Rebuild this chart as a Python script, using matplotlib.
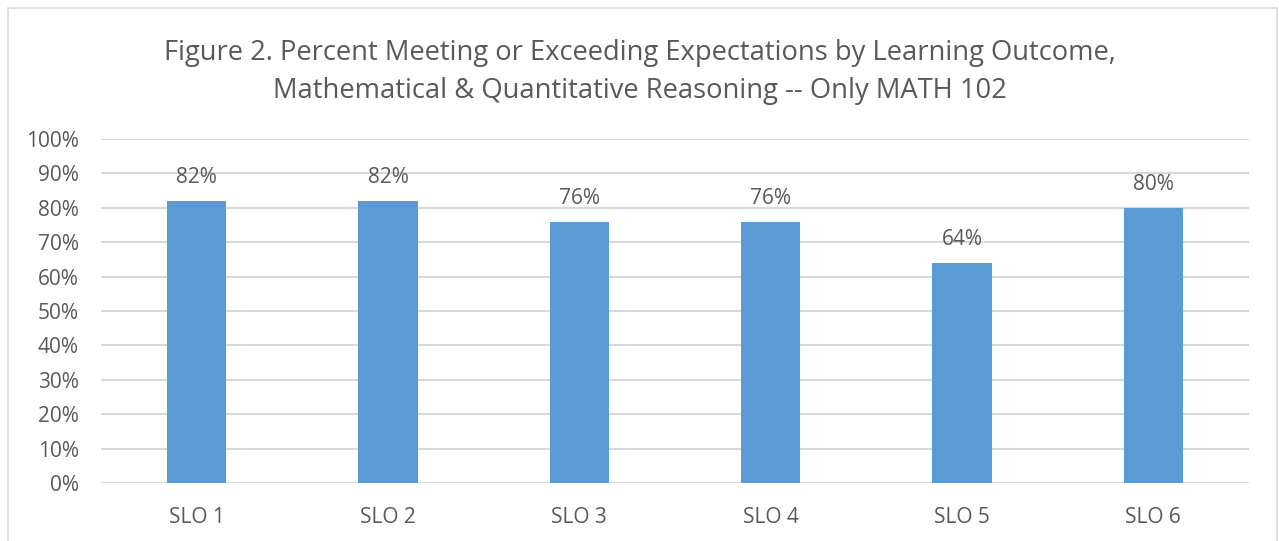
import matplotlib.pyplot as plt
from matplotlib.patches import Rectangle
from matplotlib.ticker import FuncFormatter

# data
categories = ['SLO 1', 'SLO 2', 'SLO 3', 'SLO 4', 'SLO 5', 'SLO 6']
pct_meeting = [82, 82, 76, 76, 64, 80]
y_ticks = list(range(0, 101, 10))

bar_color = '#5B9BD5'
text_color = '#595959'
grid_color = '#D9D9D9'

plt.rcParams['font.family'] = ['Open Sans', 'DejaVu Sans']

fig = plt.figure(figsize=(12.79, 5.41), dpi=100)
ax = fig.add_axes([101 / 1279, 1 - 483 / 541, 1148 / 1279, 344 / 541])

# light frame around the whole chart
fig.patches.append(Rectangle((8 / 1279, -0.05), 1269 / 1279, 1.05 - 8 / 541,
                             transform=fig.transFigure, fill=False,
                             edgecolor=grid_color, linewidth=1.2))

x = range(len(categories))
bars = ax.bar(x, pct_meeting, width=0.31, color=bar_color, zorder=3)

for b, v in zip(bars, pct_meeting):
    ax.annotate(f'{v}%', (b.get_x() + b.get_width() / 2, v),
                xytext=(0, 9), textcoords='offset points',
                ha='center', va='bottom', fontsize=15, color=text_color)

ax.set_xlim(-0.5, len(categories) - 0.5)
ax.set_ylim(0, 100)
ax.set_yticks(y_ticks)
ax.yaxis.set_major_formatter(FuncFormatter(lambda v, p: f'{v:.0f}%'))
ax.set_xticks(list(x))
ax.set_xticklabels(categories)
ax.tick_params(axis='both', length=0, labelsize=15, labelcolor=text_color)
ax.tick_params(axis='x', pad=17)
ax.tick_params(axis='y', pad=16)
ax.grid(axis='y', color=grid_color, linewidth=1.5, zorder=0)
for s in ax.spines.values():
    s.set_visible(False)

fig.text(0.5, 1 - 72 / 541,
         'Figure 2. Percent Meeting or Exceeding Expectations by Learning Outcome,\n'
         'Mathematical & Quantitative Reasoning -- Only MATH 102',
         ha='center', va='center', fontsize=19.7, color=text_color, linespacing=1.45)

fig.savefig('out.png', dpi=100)
